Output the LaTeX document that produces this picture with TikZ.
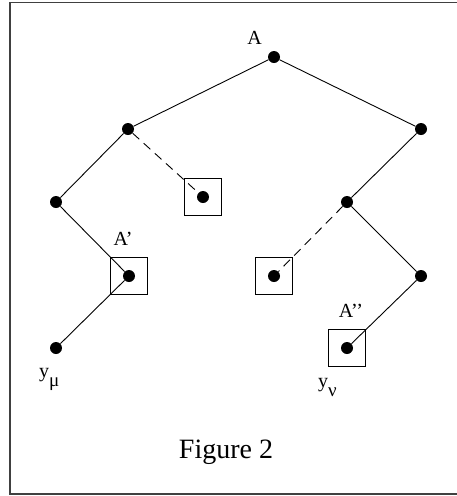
\documentclass[tikz,border=0pt]{standalone}
\usepackage{fontspec}
\setmainfont{Liberation Serif}
\newcommand{\lowsub}[1]{\raisebox{-9pt}{\fontsize{19}{22}\selectfont #1}}
\begin{document}
\begin{tikzpicture}[x=1pt,y=-1pt,
  dot/.style={circle,fill=black,inner sep=0pt,minimum size=12pt},
  sqbox/.style={draw=black,line width=0.9pt,minimum size=37pt,inner sep=0pt},
  edge/.style={line width=0.9pt},
  dashedge/.style={line width=0.9pt,dash pattern=on 9pt off 6pt},
  lbl/.style={font=\fontsize{20}{24}\selectfont,inner sep=0pt,anchor=base}]
\useasboundingbox (0,0) rectangle (457,496);
\draw[line width=1.6pt,black!75] (460,2.5) -- (9.8,2.5) -- (9.8,494) -- (460,494);
% dots
\node[dot] (A) at (274,57) {};
\node[dot] (L1) at (128,129) {};
\node[dot] (R1) at (421,129) {};
\node[dot] (LL) at (56,202) {};
\node[dot] (B1) at (203,197) {};
\node[dot] (R2) at (347,202) {};
\node[dot] (Ap) at (129,276) {};
\node[dot] (B3) at (274,276) {};
\node[dot] (R3) at (421,276) {};
\node[dot] (Ym) at (56,348) {};
\node[dot] (App) at (347,348) {};
% boxes
\node[sqbox] (bx1) at (B1) {};
\node[sqbox] (bxAp) at (Ap) {};
\node[sqbox] (bx3) at (B3) {};
\node[sqbox] (bxApp) at (App) {};
% edges
\draw[edge] (A) -- (L1);
\draw[edge] (A) -- (R1);
\draw[edge] (L1) -- (LL);
\draw[dashedge] (L1) -- (B1);
\draw[edge] (LL) -- (Ap);
\draw[edge] (Ap) -- (Ym);
\draw[edge] (R1) -- (R2);
\draw[dashedge] (R2) -- (B3);
\draw[edge] (R2) -- (R3);
\draw[edge] (R3) -- (App);
% labels
\node[lbl] (lA) at (254.5,44) {A};
\node[lbl] (lAp) at (123,245) {A’};
\node[lbl] (lApp) at (351,317) {A’’};
\node[lbl,anchor=base west] (lYm) at (39,377) {y\lowsub{μ}};
\node[lbl,anchor=base west] (lYn) at (318,387) {y\lowsub{ν}};
\node[lbl,font=\fontsize{28}{32}\selectfont] (fig) at (226,458) {Figure 2};
\end{tikzpicture}
\end{document}
